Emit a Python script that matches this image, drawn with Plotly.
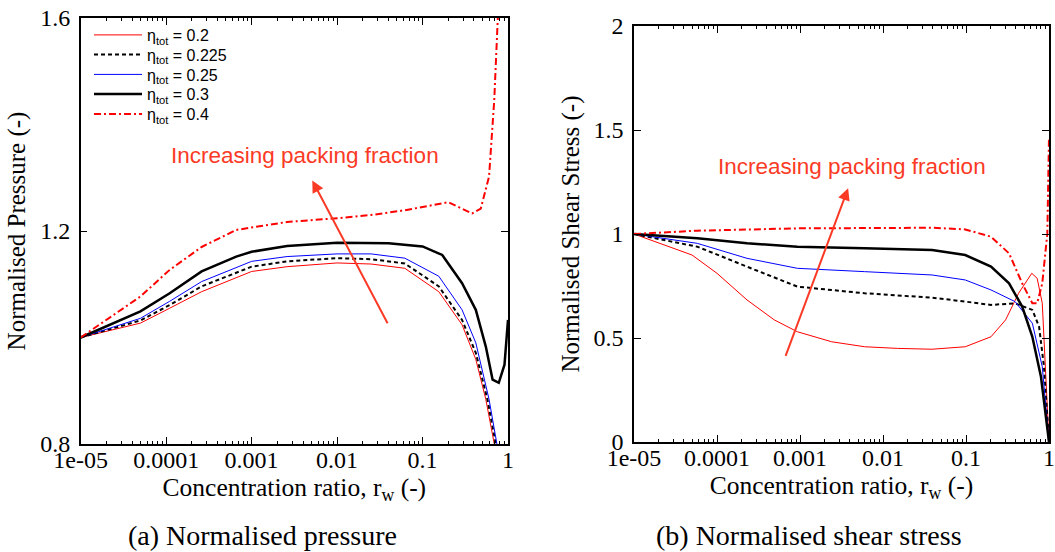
import plotly.graph_objects as go

# ---------------- data ----------------
# (a) Normalised pressure
p_x_020 = [1e-5, 5e-5, 1.1e-4, 2.6e-4, 1e-3, 2.6e-3, 1e-2, 2.5e-2, 6.2e-2, 0.155, 0.29, 0.42, 0.55, 0.69, 0.76]
p_y_020 = [1.0, 1.027, 1.055, 1.086, 1.124, 1.133, 1.140, 1.138, 1.130, 1.086, 1.024, 0.959, 0.884, 0.800, 0.765]

p_x_0225 = [1e-5, 5e-5, 1.1e-4, 2.6e-4, 1e-3, 2.6e-3, 1e-2, 2.5e-2, 6.2e-2, 0.155, 0.29, 0.42, 0.574, 0.72, 0.78]
p_y_0225 = [1.0, 1.032, 1.061, 1.096, 1.133, 1.143, 1.149, 1.147, 1.139, 1.096, 1.033, 0.971, 0.884, 0.800, 0.770]

p_x_025 = [1e-5, 5e-5, 1.1e-4, 2.6e-4, 1e-3, 2.6e-3, 1e-2, 2.5e-2, 6.2e-2, 0.155, 0.29, 0.42, 0.60, 0.755, 0.80]
p_y_025 = [1.0, 1.036, 1.068, 1.105, 1.143, 1.152, 1.157, 1.157, 1.149, 1.115, 1.052, 0.990, 0.884, 0.800, 0.770]

p_x_030 = [1e-5, 5e-5, 1.1e-4, 2.6e-4, 6.6e-4, 1e-3, 2.6e-3, 1e-2, 4e-2, 0.1, 0.17, 0.29, 0.42, 0.55, 0.66, 0.78, 0.91, 1.0]
p_y_030 = [1.0, 1.049, 1.083, 1.124, 1.152, 1.161, 1.172, 1.178, 1.177, 1.171, 1.155, 1.102, 1.052, 0.983, 0.921, 0.915, 0.949, 1.033]

p_x_040 = [1e-5, 5e-5, 1.1e-4, 2.6e-4, 6.6e-4, 2.6e-3, 1e-2, 2.5e-2, 6.2e-2, 0.20, 0.38, 0.48, 0.60, 0.69, 0.76, 0.80]
p_y_040 = [1.0, 1.077, 1.127, 1.170, 1.202, 1.217, 1.224, 1.230, 1.239, 1.254, 1.233, 1.242, 1.302, 1.445, 1.600, 1.750]

# (b) Normalised shear stress
s_x_020 = [1e-5, 5e-5, 1e-4, 2.3e-4, 4.9e-4, 9.3e-4, 2.4e-3, 6e-3, 1.5e-2, 3.9e-2, 9.8e-2, 0.2, 0.30, 0.43, 0.62, 0.72, 0.83, 0.91, 1.0]
s_y_020 = [1.0, 0.899, 0.811, 0.683, 0.587, 0.530, 0.482, 0.458, 0.450, 0.446, 0.458, 0.506, 0.587, 0.715, 0.811, 0.787, 0.667, 0.362, 0.0]

s_x_0225 = [1e-5, 5.8e-5, 2.3e-4, 9.3e-4, 6e-3, 3.9e-2, 9.8e-2, 0.2, 0.39, 0.63, 0.76, 0.87, 1.0]
s_y_0225 = [1.0, 0.939, 0.843, 0.747, 0.715, 0.694, 0.675, 0.659, 0.667, 0.635, 0.554, 0.362, 0.0]

s_x_025 = [1e-5, 5.8e-5, 2.3e-4, 9.3e-4, 6e-3, 3.9e-2, 9.8e-2, 0.2, 0.39, 0.63, 0.83, 1.0]
s_y_025 = [1.0, 0.955, 0.883, 0.835, 0.819, 0.803, 0.779, 0.731, 0.675, 0.571, 0.362, 0.0]

s_x_030 = [1e-5, 5.8e-5, 2.3e-4, 9.3e-4, 6e-3, 3.9e-2, 9.8e-2, 0.2, 0.33, 0.475, 0.63, 0.80, 1.0]
s_y_030 = [1.0, 0.979, 0.955, 0.939, 0.931, 0.923, 0.899, 0.843, 0.763, 0.651, 0.506, 0.314, 0.0]

s_x_040 = [1e-5, 5.8e-5, 9.3e-4, 6e-3, 3.9e-2, 9.8e-2, 0.2, 0.33, 0.475, 0.63, 0.72, 0.83, 0.955, 1.0]
s_y_040 = [1.0, 1.016, 1.027, 1.030, 1.030, 1.022, 0.987, 0.907, 0.763, 0.667, 0.667, 0.763, 1.003, 1.468]

legend_names = ["η<sub>tot</sub> = 0.2", "η<sub>tot</sub> = 0.225", "η<sub>tot</sub> = 0.25",
                "η<sub>tot</sub> = 0.3", "η<sub>tot</sub> = 0.4"]

x_tickvals = [1e-5, 1e-4, 1e-3, 1e-2, 1e-1, 1]
x_ticktext = ["1e-05", "0.0001", "0.001", "0.01", "0.1", "1"]
x_minor = [m * 10.0 ** e for e in range(-5, 0) for m in range(2, 10)]

p_yticks = [0.8, 1.2, 1.6]
s_yticks = [0, 0.5, 1, 1.5, 2]

# ---------------- styles ----------------
styles = [
    dict(color="#ff0000", width=1, dash="solid"),
    dict(color="#000000", width=2, dash="4px,3px"),
    dict(color="#0000ff", width=1, dash="solid"),
    dict(color="#000000", width=2.5, dash="solid"),
    dict(color="#ff0000", width=2, dash="7px,3px,2px,3px"),
]

SERIF = "Liberation Serif"
SANS = "Liberation Sans"
RED_TXT = "#fb3a26"
W, H = 1055, 552

# legend rows (one single-entry legend per row, so rows can sit as tightly as in the reference)
legend_ids = ["legend", "legend2", "legend3", "legend4", "legend5"]
legend_rows_px = [35, 54.5, 74.5, 94, 114]

fig = go.Figure()

p_series = [(p_x_020, p_y_020), (p_x_0225, p_y_0225), (p_x_025, p_y_025), (p_x_030, p_y_030), (p_x_040, p_y_040)]
s_series = [(s_x_020, s_y_020), (s_x_0225, s_y_0225), (s_x_025, s_y_025), (s_x_030, s_y_030), (s_x_040, s_y_040)]

for (xs, ys), name, st, lg in zip(p_series, legend_names, styles, legend_ids):
    fig.add_trace(go.Scatter(x=xs, y=ys, mode="lines", name=name, line=st,
                             xaxis="x", yaxis="y", showlegend=True, legend=lg))
for (xs, ys), name, st in zip(s_series, legend_names, styles):
    fig.add_trace(go.Scatter(x=xs, y=ys, mode="lines", name=name, line=st,
                             xaxis="x2", yaxis="y2", showlegend=False))


def xax(domain, title):
    return dict(type="log", domain=domain, range=[-5, 0],
                tickmode="array", tickvals=x_tickvals, ticktext=x_ticktext,
                ticks="inside", ticklen=7, tickwidth=1, tickcolor="black",
                minor=dict(tickmode="array", tickvals=x_minor, ticks="inside", ticklen=3.5,
                           tickwidth=1, tickcolor="black", showgrid=False),
                showline=True, linecolor="black", linewidth=1.5, mirror="allticks",
                showgrid=False, zeroline=False, automargin=False,
                ticklabelstandoff=-7,
                tickfont=dict(family=SERIF, size=24, color="black"),
                title=dict(text=title, font=dict(family=SERIF, size=25.5, color="black"), standoff=0))


def yax(domain, rng, tickvals, title, anchor):
    return dict(domain=domain, range=rng, tickmode="array", tickvals=tickvals,
                ticks="inside", ticklen=7, tickwidth=1, tickcolor="black",
                showline=True, linecolor="black", linewidth=1.5, mirror="allticks",
                showgrid=False, zeroline=False, automargin=False, anchor=anchor,
                ticklabelstandoff=4,
                tickfont=dict(family=SERIF, size=24, color="black"),
                title=dict(text=title, font=dict(family=SERIF, size=25, color="black"), standoff=7))


layout_kw = dict(
    width=W, height=H,
    margin=dict(l=0, r=0, t=0, b=0),
    paper_bgcolor="white", plot_bgcolor="white",
    xaxis=dict(**xax([80.7 / W, 508 / W], "Concentration ratio, r<sub>w</sub> (-)"), anchor="y"),
    yaxis=yax([1 - 444 / H, 1 - 18 / H], [0.8, 1.6], p_yticks, "Normalised Pressure (-)", "x"),
    xaxis2=dict(**xax([634 / W, 1049 / W], "Concentration ratio, r<sub>w</sub> (-)"), anchor="y2"),
    yaxis2=yax([1 - 442 / H, 1 - 26 / H], [0, 2], s_yticks, "Normalised Shear Stress (-)", "x2"),
    showlegend=True,
)
for lg, row in zip(legend_ids, legend_rows_px):
    layout_kw[lg] = dict(x=89 / W, y=1 - row / H, xanchor="left", yanchor="middle",
                         bgcolor="rgba(0,0,0,0)", borderwidth=0,
                         font=dict(family=SANS, size=16, color="black"),
                         itemwidth=48, tracegroupgap=0)
fig.update_layout(**layout_kw)

annotations = [
    # arrows (head at x,y; tail at ax,ay; log10 units on the x axes)
    dict(x=-2.29, y=1.295, ax=-1.40, ay=1.024, xref="x", yref="y", axref="x", ayref="y",
         text="", showarrow=True, arrowhead=2, arrowsize=1.2, arrowwidth=2, arrowcolor=RED_TXT, standoff=0),
    dict(x=-2.42, y=1.220, ax=-3.18, ay=0.407, xref="x2", yref="y2", axref="x2", ayref="y2",
         text="", showarrow=True, arrowhead=2, arrowsize=1.2, arrowwidth=2, arrowcolor=RED_TXT, standoff=0),
    dict(x=-2.37, y=1.342, xref="x", yref="y", text="Increasing packing fraction", showarrow=False,
         xanchor="center", yanchor="middle",
         font=dict(family=SANS, size=22.5, color=RED_TXT)),
    dict(x=-2.37, y=1.324, xref="x2", yref="y2", text="Increasing packing fraction", showarrow=False,
         xanchor="center", yanchor="middle",
         font=dict(family=SANS, size=22.5, color=RED_TXT)),
    # sub-figure captions
    dict(x=262 / W, y=1 - 535 / H, xref="paper", yref="paper", text="(a) Normalised pressure",
         xanchor="center", yanchor="middle",
         showarrow=False, font=dict(family=SERIF, size=28, color="black")),
    dict(x=809 / W, y=1 - 535 / H, xref="paper", yref="paper", text="(b) Normalised shear stress",
         xanchor="center", yanchor="middle",
         showarrow=False, font=dict(family=SERIF, size=28, color="black")),
]
fig.update_layout(annotations=annotations)

fig.write_html("out.html")
